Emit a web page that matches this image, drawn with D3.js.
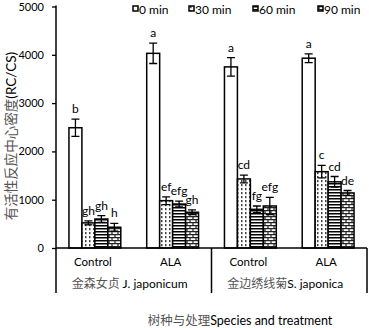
<!DOCTYPE html>
<html>
<head>
<meta charset="utf-8">
<script src="https://cdn.jsdelivr.net/npm/d3@7"></script>
<style>
body{margin:0;background:#fff;}
text{font-family:Lato,"Open Sans",sans-serif;fill:#000;}
.cn{font-family:"Noto Sans CJK SC",sans-serif;fill:#555;}
</style>
</head>
<body>
<script>
// categories (species x treatment)
var treatments=['Control','ALA','Control','ALA'];
var species=['金森女贞 J. japonicum','金边绣线菊S. japonica'];
var series=['0 min','30 min','60 min','90 min'];
// values per series, one per category
var v0=[2490,4030,3750,3930];
var v30=[520,980,1430,1580];
var v60=[600,910,800,1370];
var v90=[430,740,870,1140];
// standard errors
var e0=[180,210,190,90];
var e30=[40,80,80,130];
var e60=[70,60,70,110];
var e90=[80,50,180,50];
// significance letters
var l0=['b','a','a','a'];
var l30=['gh','ef','cd','c'];
var l60=['gh','efg','fg','cd'];
var l90=['h','gh','efg','de'];
var yTicks=[0,1000,2000,3000,4000,5000];

var width=369,height=328;
var pLeft=56,pRight=367,pBase=248,pTop=6.5,pBottom=293;

var svg=d3.select('body').append('svg')
  .attr('width',width).attr('height',height);

var defs=svg.append('defs');
var pDots=defs.append('pattern').attr('id','p30')
  .attr('patternUnits','userSpaceOnUse').attr('width',4).attr('height',4);
pDots.append('rect').attr('width',4).attr('height',4).attr('fill','#fff');
pDots.append('rect').attr('x',1).attr('y',0).attr('width',1.5).attr('height',2.2).attr('fill','#444');
var pHor=defs.append('pattern').attr('id','p60')
  .attr('patternUnits','userSpaceOnUse').attr('width',3).attr('height',3);
pHor.append('rect').attr('width',3).attr('height',3).attr('fill','#fff');
pHor.append('rect').attr('width',3).attr('height',1.5).attr('fill','#000');
var pBrick=defs.append('pattern').attr('id','p90')
  .attr('patternUnits','userSpaceOnUse').attr('width',6).attr('height',6);
pBrick.append('rect').attr('width',6).attr('height',6).attr('fill','#fff');
pBrick.append('path').attr('d','M0,0.6H6M0,3.6H6M1,0V3M4,3V6')
  .attr('stroke','#222').attr('stroke-width',1.2);

var fills=['#fff','url(#p30)','url(#p60)','url(#p90)'];

var table=series.map(function(s,i){
  var vals=[v0,v30,v60,v90][i],errs=[e0,e30,e60,e90][i],labs=[l0,l30,l60,l90][i];
  return {name:s,fill:fills[i],pts:vals.map(function(v,j){return {cat:j,v:v,e:errs[j],l:labs[j],s:s};})};
});

var yScale=d3.scaleLinear().domain([0,5000]).range([pBase,pTop]);
var x0=d3.scaleBand().domain(d3.range(treatments.length)).range([pLeft,pRight]);
var bw=x0.bandwidth();
var x1=d3.scaleBand().domain(series).range([bw/6,bw*5/6]);

// y axis
var yAxis=d3.axisLeft(yScale).tickValues(yTicks).tickSize(4).tickSizeOuter(0).tickFormat(d3.format('d'));
var ya=svg.append('g').attr('transform','translate('+pLeft+',0)').call(yAxis);
ya.select('.domain').remove();
ya.selectAll('.tick line').attr('stroke','#000').attr('stroke-width',1.3);
ya.selectAll('.tick text').attr('x',-12).style('font-size','11px').style('font-family','Lato,sans-serif');
svg.append('line').attr('x1',pLeft).attr('x2',pLeft).attr('y1',pTop-1).attr('y2',pBottom)
  .attr('stroke','#000').attr('stroke-width',1.5);

// bars
var gs=svg.selectAll('.series').data(table).enter().append('g').attr('class','series');
gs.selectAll('rect').data(function(d){return d.pts;}).enter().append('rect')
  .attr('x',function(d){return x0(d.cat)+x1(d.s);})
  .attr('y',function(d){return yScale(d.v);})
  .attr('width',x1.bandwidth())
  .attr('height',function(d){return pBase-yScale(d.v);})
  .attr('fill',function(d){return fills[series.indexOf(d.s)];})
  .attr('stroke','#000').attr('stroke-width',1.5);

// error bars
var eb=gs.selectAll('.eb').data(function(d){return d.pts;}).enter().append('g').attr('class','eb')
  .attr('transform',function(d){return 'translate('+(x0(d.cat)+x1(d.s)+x1.bandwidth()/2)+',0)';});
eb.append('path')
  .attr('d',function(d){
    var a=yScale(d.v+d.e),b=yScale(d.v-d.e);
    return 'M0,'+a+'V'+b+'M-4,'+a+'H4M-4,'+b+'H4';
  })
  .attr('stroke','#000').attr('stroke-width',1.3).attr('fill','none');
eb.append('text')
  .attr('y',function(d){return yScale(d.v+d.e)-6;})
  .attr('text-anchor','middle')
  .style('font-size','12px')
  .text(function(d){return d.l;});

// x axis and category box
svg.append('line').attr('x1',pLeft).attr('x2',pRight).attr('y1',pBase).attr('y2',pBase)
  .attr('stroke','#000').attr('stroke-width',1.5);
[x0(2),pRight].forEach(function(x){
  svg.append('line').attr('x1',x).attr('x2',x).attr('y1',pBase).attr('y2',pBottom)
    .attr('stroke','#000').attr('stroke-width',1.5);
});
svg.selectAll('.tr').data(treatments).enter().append('text')
  .attr('x',function(d,i){return x0(i)+bw/2-2;})
  .attr('y',266).attr('text-anchor','middle').style('font-size','11.5px')
  .text(function(d){return d;});
species.forEach(function(s,i){
  var m=s.match(/^([^A-Za-z]+)(.*)$/);
  var t=svg.append('text').attr('x',(x0(i*2)+x0(i*2+1)+bw)/2-4).attr('y',288)
    .attr('text-anchor','middle').style('font-size','12px');
  t.append('tspan').attr('class','cn').text(m[1]);
  t.append('tspan').text(m[2]);
});

// axis titles
var xt=svg.append('text').attr('x',240).attr('y',325).attr('text-anchor','middle').style('font-size','12.5px');
xt.append('tspan').attr('class','cn').text('树种与处理');
xt.append('tspan').text('Species and treatment');
var yt=svg.append('text').attr('transform','translate(16,136) rotate(-90)')
  .attr('text-anchor','middle').style('font-size','13.5px');
yt.append('tspan').attr('class','cn').text('有活性反应中心密度');
yt.append('tspan').text('(RC/CS)');

// legend
var lx=[133,189,253,318];
var lg=svg.selectAll('.lg').data(table).enter().append('g').attr('class','lg')
  .attr('transform',function(d,i){return 'translate('+lx[i]+',6)';});
lg.append('rect').attr('width',5).attr('height',5)
  .attr('fill',function(d){return d.fill;})
  .attr('stroke','#000').attr('stroke-width',1.5);
lg.append('text').attr('x',6).attr('y',8).style('font-size','12px')
  .text(function(d){return d.name;});
</script>
</body>
</html>
